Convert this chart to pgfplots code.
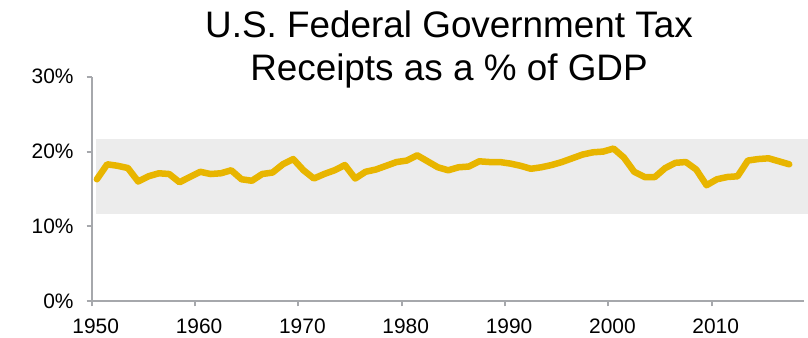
\documentclass[border=0pt]{standalone}
\usepackage{fontspec}
\setmainfont{Liberation Sans}
\usepackage{pgfplots}
\pgfplotsset{compat=1.18}
\definecolor{gold}{RGB}{232,181,0}
\definecolor{bandgray}{RGB}{236,236,236}
\definecolor{axgray}{RGB}{166,168,172}
\begin{document}
\begin{tikzpicture}
\path[use as bounding box] (0,0) rectangle (808bp,338bp);
\begin{axis}[
  at={(91.7bp,36.7bp)}, anchor=south west,
  scale only axis, width=712.3bp, height=224.6bp,
  xmin=1950, xmax=2018.93, ymin=0, ymax=30,
  axis x line=bottom, axis y line=left,
  axis line style={-, draw=axgray, line width=2bp},
  xtick={1950,1960,1970,1980,1990,2000,2010},
  ytick={0,10,20,30},
  yticklabels={0\%,10\%,20\%,30\%},
  tick align=outside, major tick length=5bp,
  tick style={draw=axgray, line width=2bp},
  /pgf/number format/1000 sep={},
  /pgf/number format/assume math mode=true,
  tick label style={font=\fontsize{21}{25}\selectfont, inner sep=0pt},
  yticklabel style={anchor=east, xshift=-13bp},
  xticklabel style={anchor=base, xshift=4bp, yshift=-27bp},
  clip=false,
]
\addplot[draw=none, fill=bandgray, forget plot] coordinates {
  (1950.42,11.7) (2019.34,11.7) (2019.34,21.68) (1950.42,21.68)} -- cycle;
\addplot[gold, line width=6.5bp, line join=round, line cap=round, mark=none] coordinates {
(1950.5,16.3) (1951.5,18.3) (1952.5,18.1) (1953.5,17.8) (1954.5,16.0)
(1955.5,16.7) (1956.5,17.1) (1957.5,17.0) (1958.5,15.9) (1959.5,16.6)
(1960.5,17.3) (1961.5,17.0) (1962.5,17.1) (1963.5,17.5) (1964.5,16.3)
(1965.5,16.1) (1966.5,17.0) (1967.5,17.2) (1968.5,18.3) (1969.5,19.0)
(1970.5,17.5) (1971.5,16.4) (1972.5,17.0) (1973.5,17.5) (1974.5,18.2)
(1975.5,16.4) (1976.5,17.3) (1977.5,17.6) (1978.5,18.1) (1979.5,18.6)
(1980.5,18.8) (1981.5,19.5) (1982.5,18.7) (1983.5,17.9) (1984.5,17.5)
(1985.5,17.9) (1986.5,18.0) (1987.5,18.7) (1988.5,18.6) (1989.5,18.6)
(1990.5,18.4) (1991.5,18.1) (1992.5,17.7) (1993.5,17.9) (1994.5,18.2)
(1995.5,18.6) (1996.5,19.1) (1997.5,19.6) (1998.5,19.9) (1999.5,20.0)
(2000.5,20.4) (2001.5,19.2) (2002.5,17.3) (2003.5,16.6) (2004.5,16.6)
(2005.5,17.8) (2006.5,18.5) (2007.5,18.6) (2008.5,17.6) (2009.5,15.5)
(2010.5,16.3) (2011.5,16.6) (2012.5,16.7) (2013.5,18.8) (2014.5,19.0)
(2015.5,19.1) (2016.5,18.7) (2017.5,18.3)
};
\end{axis}
\node[anchor=base, inner sep=0pt, font=\fontsize{37}{43}\selectfont] at (449bp,300bp) {U.S. Federal Government Tax};
\node[anchor=base, inner sep=0pt, font=\fontsize{37}{43}\selectfont] at (449bp,257bp) {Receipts as a \% of GDP};
\end{tikzpicture}
\end{document}
